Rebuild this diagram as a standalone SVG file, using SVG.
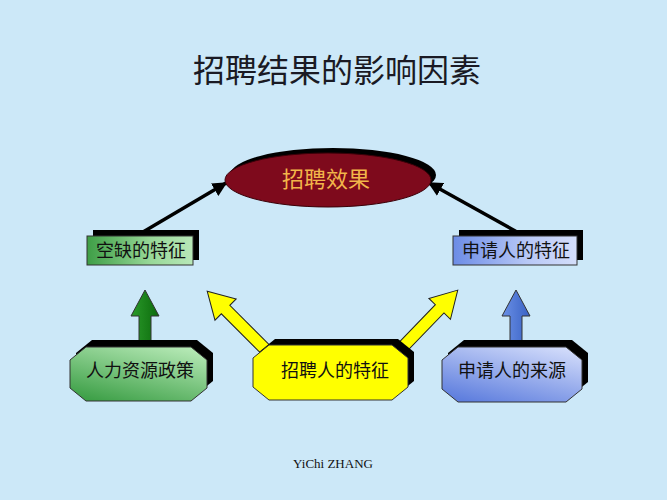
<svg xmlns="http://www.w3.org/2000/svg" width="667" height="500" viewBox="0 0 667 500">
<style>
.cjk{font-family:"Noto Sans CJK SC","Noto Sans",sans-serif;text-anchor:middle}
.lbl{font-size:18px;fill:#111}
.sh{fill:#000}
.edge{stroke:#000;stroke-width:3.5;fill:none}
.ol{stroke:#333;stroke-width:1}
</style>
<defs>
<marker id="ah" viewBox="0 0 10 10" refX="9" refY="5" markerWidth="4.2" markerHeight="4.2" orient="auto" markerUnits="strokeWidth">
<path d="M0,0 L10,5 L0,10 z" fill="#000"/>
</marker>
<linearGradient id="gBox" x1="0" y1="0" x2="1" y2="0">
<stop offset="0" stop-color="#3E9E46"/><stop offset="0.6" stop-color="#98D898"/><stop offset="1" stop-color="#B8E8B8"/>
</linearGradient>
<linearGradient id="bBox" x1="0" y1="0" x2="1" y2="0">
<stop offset="0" stop-color="#6C8CE6"/><stop offset="0.6" stop-color="#B8C8F6"/><stop offset="1" stop-color="#D4DEFA"/>
</linearGradient>
<linearGradient id="gOct" x1="0.8" y1="0" x2="0.2" y2="1">
<stop offset="0" stop-color="#B4E8B4"/><stop offset="1" stop-color="#3EA048"/>
</linearGradient>
<linearGradient id="bOct" x1="0.8" y1="0" x2="0.2" y2="1">
<stop offset="0" stop-color="#D0DAFA"/><stop offset="1" stop-color="#5E7EDE"/>
</linearGradient>
<linearGradient id="gArr" x1="0" y1="0" x2="1" y2="0">
<stop offset="0" stop-color="#2A9A2A"/><stop offset="1" stop-color="#0C6A0C"/>
</linearGradient>
<linearGradient id="bArr" x1="0" y1="0" x2="1" y2="0">
<stop offset="0" stop-color="#6A90E6"/><stop offset="1" stop-color="#3A62C4"/>
</linearGradient>
</defs>
<rect width="667" height="500" fill="#CCE8F8"/>
<text class="cjk" x="337" y="82" font-size="32" fill="#1A1A24">招聘结果的影响因素</text>

<g id="connectors">
<line class="edge" x1="143" y1="232" x2="226" y2="183" marker-end="url(#ah)"/>
<line class="edge" x1="517" y1="232" x2="429" y2="183" marker-end="url(#ah)"/>
<polygon class="ol" fill="url(#gArr)" points="139,341 139,316 131,316 145,290 159,316 151,316 151,341"/>
<polygon class="ol" fill="url(#bArr)" points="510,341 510,316 502,316 516,290 530,316 522,316 522,341"/>
<polygon fill="#FFFF00" stroke="#222" stroke-width="1" transform="translate(268,352) rotate(-135)" points="0,-6 60,-6 60,-15 86,0 60,15 60,6 0,6"/>
<polygon fill="#FFFF00" stroke="#222" stroke-width="1" transform="translate(398,352) rotate(-46)" points="0,-6 60,-6 60,-15 86,0 60,15 60,6 0,6"/>
</g>

<g id="result">
<ellipse class="sh" cx="333" cy="175" rx="103" ry="27"/>
<ellipse cx="328" cy="180" rx="103" ry="27" fill="#7E0A1C" stroke="#3A0008" stroke-width="1"/>
<text class="cjk" x="326" y="187" font-size="22" fill="#F2B54A">招聘效果</text>
</g>

<g id="vacancy">
<rect class="sh" x="93" y="230" width="106" height="30"/>
<rect class="ol" x="87" y="236" width="106" height="29" fill="url(#gBox)"/>
<text class="cjk lbl" x="141" y="257">空缺的特征</text>
</g>

<g id="applicant">
<rect class="sh" x="459" y="230" width="124" height="30"/>
<rect class="ol" x="453" y="236" width="124" height="29" fill="url(#bBox)"/>
<text class="cjk lbl" x="516" y="257">申请人的特征</text>
</g>

<g id="hr-policy">
<polygon class="sh" transform="translate(6,-7)" points="86,347 191,347 207,360 207,388 191,401 86,401 70,388 70,360"/>
<polygon class="ol" fill="url(#gOct)" points="86,347 191,347 207,360 207,388 191,401 86,401 70,388 70,360"/>
<text class="cjk lbl" x="140" y="377">人力资源政策</text>
</g>

<g id="recruiter">
<polygon class="sh" transform="translate(6,-6)" points="269,345 392,345 408,358 408,387 392,400 269,400 253,387 253,358"/>
<polygon class="ol" fill="#FFFF00" points="269,345 392,345 408,358 408,387 392,400 269,400 253,387 253,358"/>
<text class="cjk lbl" x="335" y="377">招聘人的特征</text>
</g>

<g id="source">
<polygon class="sh" transform="translate(6,-7)" points="458,347 566,347 582,360 582,389 566,402 458,402 442,389 442,360"/>
<polygon class="ol" fill="url(#bOct)" points="458,347 566,347 582,360 582,389 566,402 458,402 442,389 442,360"/>
<text class="cjk lbl" x="512" y="377">申请人的来源</text>
</g>

<text x="333" y="468" font-family="Liberation Serif, serif" font-size="13" text-anchor="middle" fill="#111">YiChi ZHANG</text>
</svg>
